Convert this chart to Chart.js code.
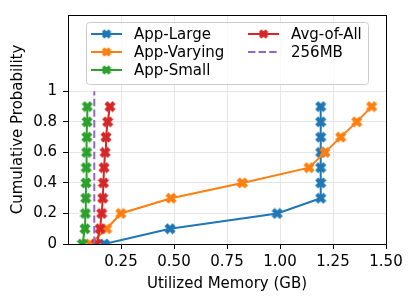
<!DOCTYPE html>
<html>
<head>
<meta charset="utf-8">
<script src="https://cdn.jsdelivr.net/npm/chart.js@4/dist/chart.umd.min.js"></script>
<style>
  html, body { margin: 0; padding: 0; background: #fff; }
  #wrap { width: 415px; height: 305px; }
</style>
</head>
<body>
<div id="wrap"><canvas id="cdf-chart"></canvas></div>
<script>
// cumulative probability levels shared by every series
const cdfLevels = [0, 0.1, 0.2, 0.3, 0.4, 0.5, 0.6, 0.7, 0.8, 0.9];

// utilized memory (GB) at each level
const appLarge = [0.171, 0.481, 0.987, 1.192, 1.192, 1.192, 1.192, 1.192, 1.192, 1.192];
const appVarying = [0.104, 0.182, 0.249, 0.486, 0.822, 1.137, 1.212, 1.286, 1.362, 1.432];
const appSmall = [0.068, 0.080, 0.082, 0.084, 0.085, 0.086, 0.088, 0.089, 0.090, 0.091];
const avgOfAll = [0.135, 0.151, 0.159, 0.164, 0.167, 0.170, 0.175, 0.179, 0.187, 0.198];

// 256MB reference line
const refX = 0.124;
const refY = [0, 1];

const xTicks = [0.25, 0.5, 0.75, 1.0, 1.25, 1.5];
const yTicks = [0, 0.2, 0.4, 0.6, 0.8, 1.0];

const FONT = 'DejaVu Sans';
const FS = 15;

// filled "X" marker like matplotlib's 'X'
function makeX(color, s) {
    const c = document.createElement('canvas');
    c.width = s; c.height = s;
    const g = c.getContext('2d');
    const h = s / 2, a = s * 0.18, r = s * 0.48;
    g.translate(h, h);
    g.rotate(Math.PI / 4);
    g.fillStyle = color;
    g.fillRect(-r, -a, 2 * r, 2 * a);
    g.fillRect(-a, -r, 2 * a, 2 * r);
    return c;
}

const series = [
    { label: 'App-Large', xs: appLarge, color: '#1f77b4' },
    { label: 'App-Varying', xs: appVarying, color: '#ff7f0e' },
    { label: 'App-Small', xs: appSmall, color: '#2ca02c' },
    { label: 'Avg-of-All', xs: avgOfAll, color: '#d62728' }
];

const datasets = series.map((s, i) => ({
    label: s.label,
    data: s.xs.map((x, j) => ({ x: x, y: cdfLevels[j] })),
    borderColor: s.color,
    backgroundColor: s.color,
    borderWidth: 2,
    pointStyle: makeX(s.color, 12),
    legendMark: makeX(s.color, 10),
    pointRadius: 6,
    order: 10 - i
}));
datasets.push({
    label: '256MB',
    data: refY.map(y => ({ x: refX, y: y })),
    borderColor: '#9467bd',
    borderWidth: 2,
    borderDash: [7.4, 3.2],
    pointRadius: 0,
    order: 1
});

// legend in two columns (matplotlib fills column by column)
const legendPlugin = {
    id: 'mplLegend',
    afterDatasetsDraw(chart) {
        const ctx = chart.ctx;
        const a = chart.chartArea;
        const bx = a.left + 18, by = a.top + 7, bw = 282, bh = 62;
        ctx.save();
        ctx.beginPath();
        ctx.roundRect(bx + 0.5, by + 0.5, bw, bh, 3);
        ctx.fillStyle = 'rgba(255,255,255,0.8)';
        ctx.fill();
        ctx.strokeStyle = '#cccccc';
        ctx.lineWidth = 1;
        ctx.stroke();
        const cols = [bx + 5, bx + 162];
        const rows = [by + 12, by + 30, by + 48];
        chart.data.datasets.forEach((ds, i) => {
            const col = i < 3 ? 0 : 1;
            const row = i < 3 ? i : i - 3;
            const x0 = cols[col], y0 = rows[row];
            ctx.beginPath();
            ctx.strokeStyle = ds.borderColor;
            ctx.lineWidth = 2;
            ctx.setLineDash(ds.borderDash || []);
            ctx.moveTo(x0, y0);
            ctx.lineTo(x0 + 31, y0);
            ctx.stroke();
            ctx.setLineDash([]);
            if (ds.legendMark) {
                ctx.drawImage(ds.legendMark, x0 + 15.5 - 5, y0 - 5);
            }
            ctx.fillStyle = '#000';
            ctx.font = FS + 'px "' + FONT + '"';
            ctx.textBaseline = 'middle';
            ctx.textAlign = 'left';
            ctx.fillText(ds.label, x0 + 43, y0 + 1);
        });
        ctx.restore();
    },
    afterDraw(chart) {
        const ctx = chart.ctx;
        const a = chart.chartArea;
        ctx.save();
        ctx.strokeStyle = '#000';
        ctx.lineWidth = 1;
        ctx.strokeRect(a.left + 0.5, a.top + 0.5, a.right - a.left, a.bottom - a.top);
        ctx.restore();
    }
};

new Chart(document.getElementById('cdf-chart'), {
    type: 'line',
    data: { datasets: datasets },
    plugins: [legendPlugin],
    options: {
        responsive: true,
        maintainAspectRatio: false,
        animation: false,
        layout: { padding: { top: 13, right: 29, left: 0, bottom: 0 } },
        plugins: {
            legend: { display: false },
            tooltip: { enabled: false }
        },
        scales: {
            x: {
                type: 'linear',
                min: 0,
                max: 1.5,
                afterBuildTicks: (scale) => { scale.ticks = xTicks.map(v => ({ value: v })); },
                afterFit: (scale) => { scale.height = 61; },
                ticks: {
                    color: '#000',
                    font: { family: FONT, size: FS },
                    padding: 4,
                    maxRotation: 0,
                    callback: (v) => Number(v).toFixed(2)
                },
                grid: { color: '#e6e6e6', lineWidth: 1, tickColor: '#000', tickLength: 5 },
                border: { display: false },
                title: {
                    display: true,
                    text: 'Utilized Memory (GB)',
                    color: '#000',
                    font: { family: FONT, size: FS },
                    padding: { top: 0, bottom: 12 }
                }
            },
            y: {
                type: 'linear',
                min: 0,
                max: 1.5,
                afterBuildTicks: (scale) => { scale.ticks = yTicks.map(v => ({ value: v })); },
                afterFit: (scale) => { scale.width = 68; },
                ticks: {
                    color: '#000',
                    font: { family: FONT, size: FS },
                    padding: 6,
                    callback: (v) => String(Math.round(v * 10) / 10)
                },
                grid: { color: '#e6e6e6', lineWidth: 1, tickColor: '#000', tickLength: 5 },
                border: { display: false },
                title: {
                    display: true,
                    text: 'Cumulative Probability',
                    color: '#000',
                    font: { family: FONT, size: FS },
                    padding: { top: 9, bottom: 0 }
                }
            }
        }
    }
});
</script>
</body>
</html>
